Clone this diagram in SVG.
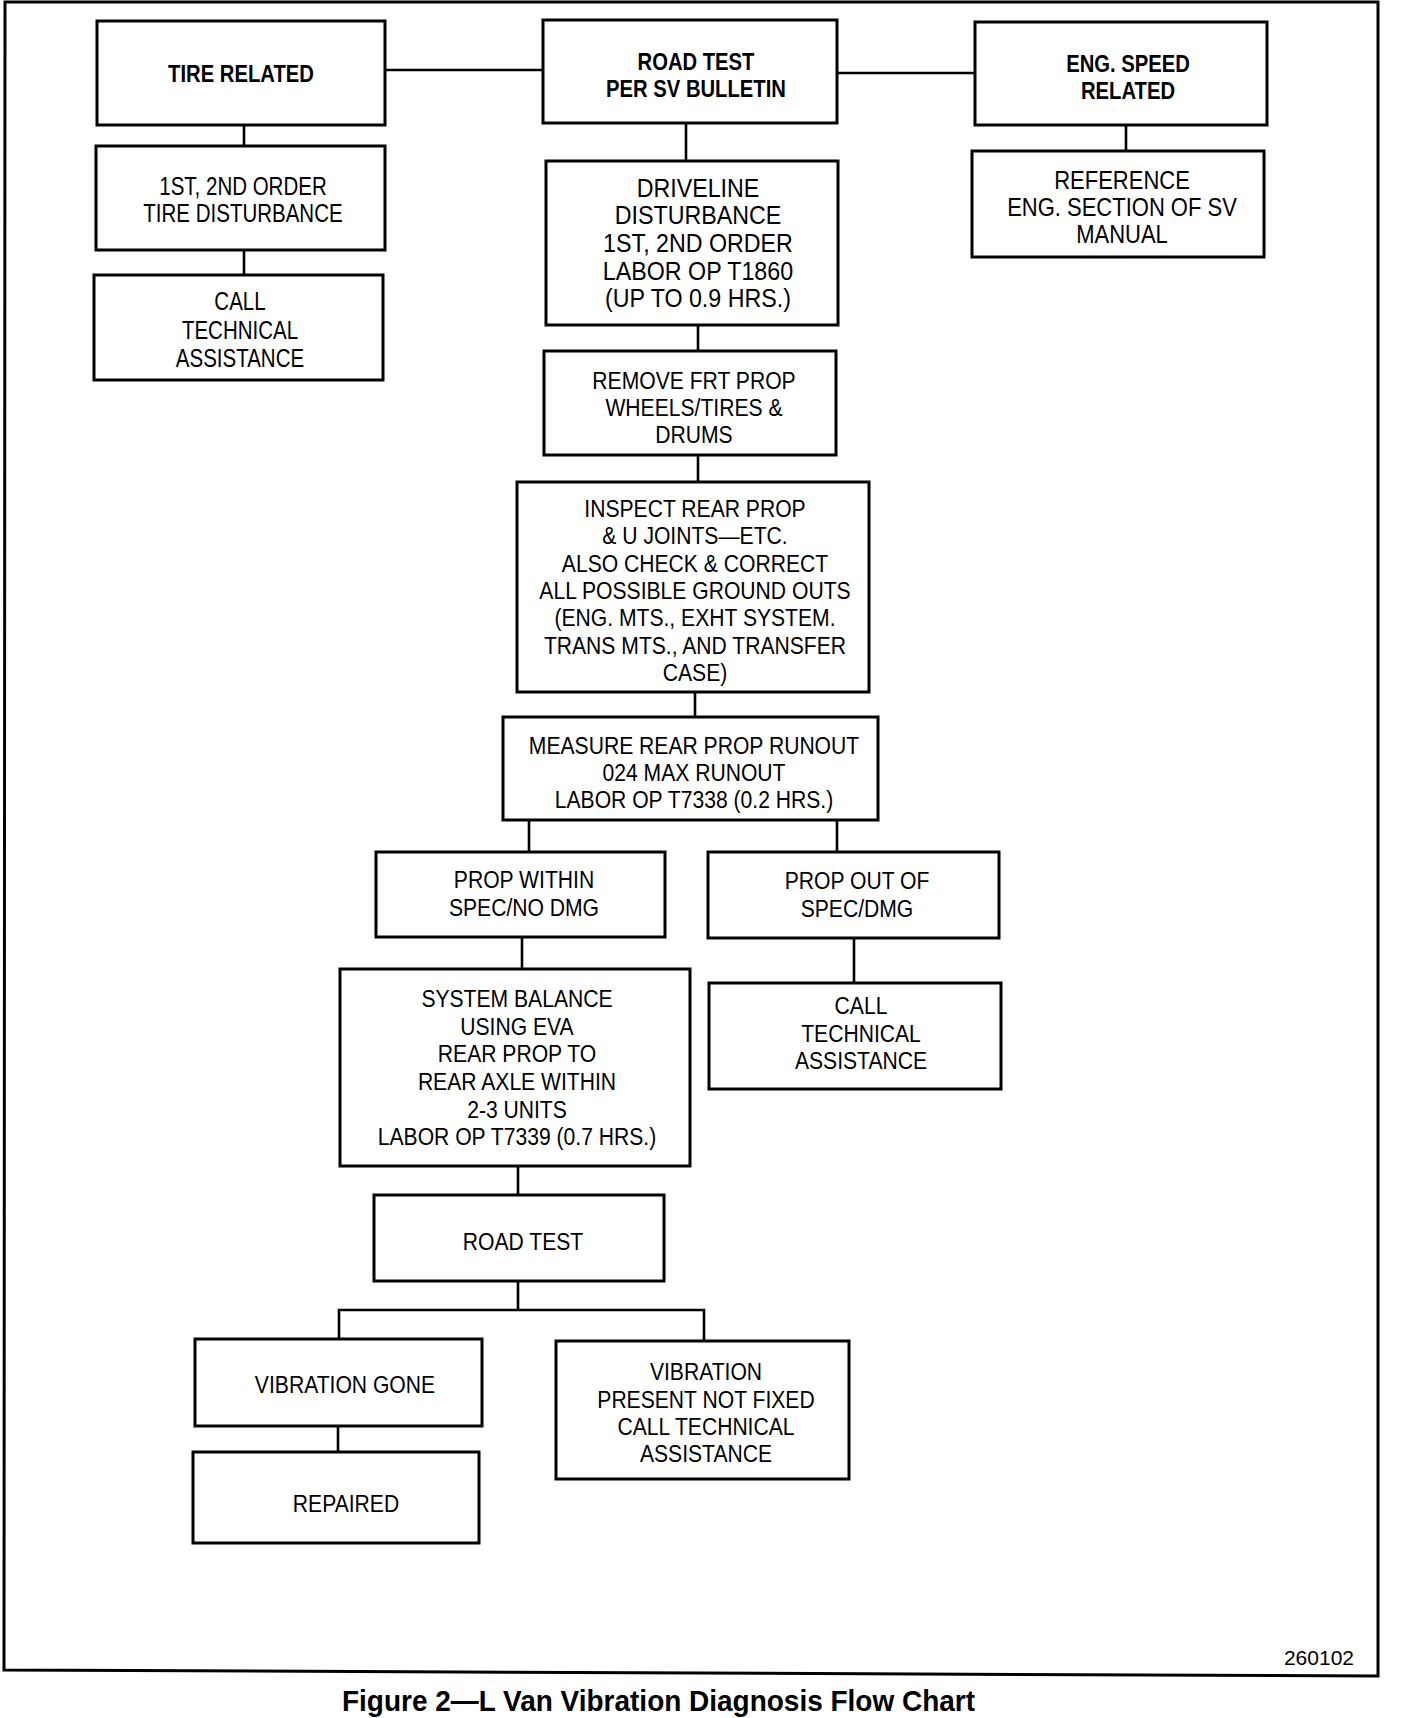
<svg xmlns="http://www.w3.org/2000/svg" width="1408" height="1718" viewBox="0 0 1408 1718">
<style>
.bg { fill: #ffffff; }
.frame { fill: none; stroke: #000; stroke-width: 3; }
.box { fill: #ffffff; stroke: #000; stroke-width: 3; }
.conn { fill: none; stroke: #000; stroke-width: 2.6; }
.t { font-family: "Liberation Sans", Arial, sans-serif; fill: #000; text-anchor: middle; transform-box: fill-box; transform-origin: center; }
.b { font-weight: bold; font-size: 23px; transform: scaleX(0.88); }
.r { font-size: 24px; transform: scaleX(0.88); }
.rl { font-size: 25px; transform: scaleX(0.82); }
.rd { font-size: 25px; transform: scaleX(0.93); }
.rr { font-size: 25px; transform: scaleX(0.88); }
.code { font-family: "Liberation Sans", Arial, sans-serif; font-size: 21px; fill: #000; text-anchor: end; }
.cap { font-family: "Liberation Sans", Arial, sans-serif; font-size: 30px; font-weight: bold; fill: #000; }
</style>
<rect class="bg" x="0" y="0" width="1408" height="1718"/>
<path class="frame" d="M5,2 L1378,2 L1378,1676 L4,1670 Z"/>

<g id="connectors">
<path class="conn" d="M385,70 H543"/>
<path class="conn" d="M837,73 H975"/>
<path class="conn" d="M244,125 V146"/>
<path class="conn" d="M244,250 V275"/>
<path class="conn" d="M686,123 V161"/>
<path class="conn" d="M1126,125 V151"/>
<path class="conn" d="M698,325 V351"/>
<path class="conn" d="M698,455 V482"/>
<path class="conn" d="M695,692 V717"/>
<path class="conn" d="M529,820 V852"/>
<path class="conn" d="M837,820 V852"/>
<path class="conn" d="M854,938 V983"/>
<path class="conn" d="M522,937 V969"/>
<path class="conn" d="M518,1166 V1195"/>
<path class="conn" d="M518,1281 V1310 M339,1339 V1310 H704 V1341"/>
<path class="conn" d="M338,1426 V1452"/>
</g>

<g id="n_tire">
<rect class="box" x="97" y="21" width="288" height="104"/>
<text class="t b" x="241" y="82">TIRE RELATED</text>
</g>
<g id="n_road">
<rect class="box" x="543" y="20" width="294" height="103"/>
<text class="t b"><tspan x="696" y="70">ROAD TEST</tspan><tspan x="696" y="97">PER SV BULLETIN</tspan></text>
</g>
<g id="n_eng">
<rect class="box" x="975" y="22" width="292" height="103"/>
<text class="t b"><tspan x="1128" y="72">ENG. SPEED</tspan><tspan x="1128" y="99">RELATED</tspan></text>
</g>
<g id="n_tire2">
<rect class="box" x="96" y="146" width="289" height="104"/>
<text class="t rl"><tspan x="243" y="195">1ST, 2ND ORDER</tspan><tspan x="243" y="222">TIRE DISTURBANCE</tspan></text>
</g>
<g id="n_call1">
<rect class="box" x="94" y="275" width="289" height="105"/>
<text class="t rl"><tspan x="240" y="310">CALL</tspan><tspan x="240" y="339">TECHNICAL</tspan><tspan x="240" y="367">ASSISTANCE</tspan></text>
</g>
<g id="n_drive">
<rect class="box" x="546" y="161" width="292" height="164"/>
<text class="t rd"><tspan x="698" y="197">DRIVELINE</tspan><tspan x="698" y="224">DISTURBANCE</tspan><tspan x="698" y="252">1ST, 2ND ORDER</tspan><tspan x="698" y="280">LABOR OP T1860</tspan><tspan x="698" y="307">(UP TO 0.9 HRS.)</tspan></text>
</g>
<g id="n_ref">
<rect class="box" x="972" y="151" width="292" height="106"/>
<text class="t rr"><tspan x="1122" y="189">REFERENCE</tspan><tspan x="1122" y="216">ENG. SECTION OF SV</tspan><tspan x="1122" y="243">MANUAL</tspan></text>
</g>
<g id="n_remove">
<rect class="box" x="544" y="351" width="292" height="104"/>
<text class="t r"><tspan x="694" y="389">REMOVE FRT PROP</tspan><tspan x="694" y="416">WHEELS/TIRES &amp;</tspan><tspan x="694" y="443">DRUMS</tspan></text>
</g>
<g id="n_inspect">
<rect class="box" x="517" y="482" width="352" height="210"/>
<text class="t r"><tspan x="695" y="517">INSPECT REAR PROP</tspan><tspan x="695" y="544">&amp; U JOINTS—ETC.</tspan><tspan x="695" y="572">ALSO CHECK &amp; CORRECT</tspan><tspan x="695" y="599">ALL POSSIBLE GROUND OUTS</tspan><tspan x="695" y="626">(ENG. MTS., EXHT SYSTEM.</tspan><tspan x="695" y="654">TRANS MTS., AND TRANSFER</tspan><tspan x="695" y="681">CASE)</tspan></text>
</g>
<g id="n_measure">
<rect class="box" x="503" y="717" width="375" height="103"/>
<text class="t r"><tspan x="694" y="754">MEASURE REAR PROP RUNOUT</tspan><tspan x="694" y="781">024 MAX RUNOUT</tspan><tspan x="694" y="808">LABOR OP T7338 (0.2 HRS.)</tspan></text>
</g>
<g id="n_within">
<rect class="box" x="376" y="852" width="289" height="85"/>
<text class="t r"><tspan x="524" y="888">PROP WITHIN</tspan><tspan x="524" y="916">SPEC/NO DMG</tspan></text>
</g>
<g id="n_out">
<rect class="box" x="708" y="852" width="291" height="86"/>
<text class="t r"><tspan x="857" y="889">PROP OUT OF</tspan><tspan x="857" y="917">SPEC/DMG</tspan></text>
</g>
<g id="n_call2">
<rect class="box" x="709" y="983" width="292" height="106"/>
<text class="t r"><tspan x="861" y="1014">CALL</tspan><tspan x="861" y="1042">TECHNICAL</tspan><tspan x="861" y="1069">ASSISTANCE</tspan></text>
</g>
<g id="n_system">
<rect class="box" x="340" y="969" width="350" height="197"/>
<text class="t r"><tspan x="517" y="1007">SYSTEM BALANCE</tspan><tspan x="517" y="1035">USING EVA</tspan><tspan x="517" y="1062">REAR PROP TO</tspan><tspan x="517" y="1090">REAR AXLE WITHIN</tspan><tspan x="517" y="1118">2-3 UNITS</tspan><tspan x="517" y="1145">LABOR OP T7339 (0.7 HRS.)</tspan></text>
</g>
<g id="n_roadtest">
<rect class="box" x="374" y="1195" width="290" height="86"/>
<text class="t r" x="523" y="1250">ROAD TEST</text>
</g>
<g id="n_gone">
<rect class="box" x="195" y="1339" width="287" height="87"/>
<text class="t r" x="345" y="1393">VIBRATION GONE</text>
</g>
<g id="n_present">
<rect class="box" x="556" y="1341" width="293" height="138"/>
<text class="t r"><tspan x="706" y="1380">VIBRATION</tspan><tspan x="706" y="1408">PRESENT NOT FIXED</tspan><tspan x="706" y="1435">CALL TECHNICAL</tspan><tspan x="706" y="1462">ASSISTANCE</tspan></text>
</g>
<g id="n_repaired">
<rect class="box" x="193" y="1452" width="286" height="91"/>
<text class="t r" x="346" y="1512">REPAIRED</text>
</g>

<text class="code" x="1354" y="1665">260102</text>
<text class="cap" x="342" y="1711" textLength="633" lengthAdjust="spacingAndGlyphs">Figure 2—L Van Vibration Diagnosis Flow Chart</text>
</svg>
